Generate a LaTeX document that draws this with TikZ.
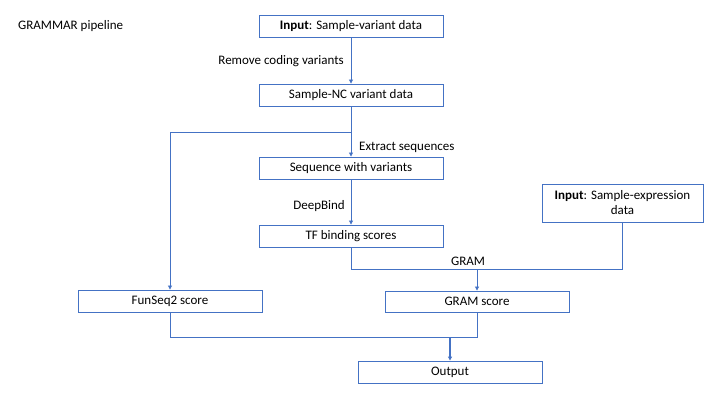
\documentclass[tikz,border=0pt]{standalone}
\usepackage{fontspec}
\setmainfont{Carlito}
\usetikzlibrary{arrows.meta}
\definecolor{ofblue}{HTML}{4472C4}
\begin{document}
\begin{tikzpicture}[x=1pt,y=-1pt,
  box/.style={draw=ofblue,line width=0.9pt,rectangle,minimum width=184pt,minimum height=22pt,inner sep=0pt,font=\fontsize{13}{15}\selectfont,text=black},
  conn/.style={draw=ofblue,line width=0.8pt},
  arr/.style={conn,-{Triangle[length=4pt,width=4pt]}},
  lbl/.style={font=\fontsize{13}{15}\selectfont,text=black,inner sep=0pt}]
\useasboundingbox (0,0) rectangle (720,405);
\node[lbl,anchor=west] (title) at (18,26) {GRAMMAR pipeline};
\node[box] (inp) at (351,26) {\textbf{Input}: Sample-variant data};
\node[box] (nc) at (351,95) {Sample-NC variant data};
\node[box] (seq) at (351,168) {Sequence with variants};
\node[box] (tf) at (351,236) {TF binding scores};
\node[box,minimum width=161pt,minimum height=38pt,align=center] (expr) at (622.5,203) {\textbf{Input}: Sample-expression\\data};
\node[box] (fun) at (170,301) {FunSeq2 score};
\node[box,minimum height=21pt] (gram) at (477,301.5) {GRAM score};
\node[box] (out) at (450,372) {Output};
\node[lbl,anchor=east] (l1) at (344,61) {Remove coding variants};
\node[lbl,anchor=west] (l2) at (359,147) {Extract sequences};
\node[lbl,anchor=east] (l3) at (345,206) {DeepBind};
\node[lbl] (l4) at (468,261) {GRAM};
\coordinate (b1) at (351,132);
\coordinate (j1) at (351,269);
\coordinate (j2) at (170,337);
\draw[arr] (inp.south) -- (nc.north);
\draw[conn] (nc.south) -- (b1);
\draw[arr] (b1) -- (seq.north);
\draw[arr] (b1) -| (fun.north);
\draw[arr] (seq.south) -- (tf.north);
\draw[conn] (tf.south) -- (j1) -| (expr.south);
\draw[arr] (j1 -| gram.north) -- (gram.north);
\draw[conn] (fun.south) -- (j2) -| (gram.south);
\draw[arr,line width=1.4pt] (j2 -| out.north) -- (out.north);
\end{tikzpicture}
\end{document}
